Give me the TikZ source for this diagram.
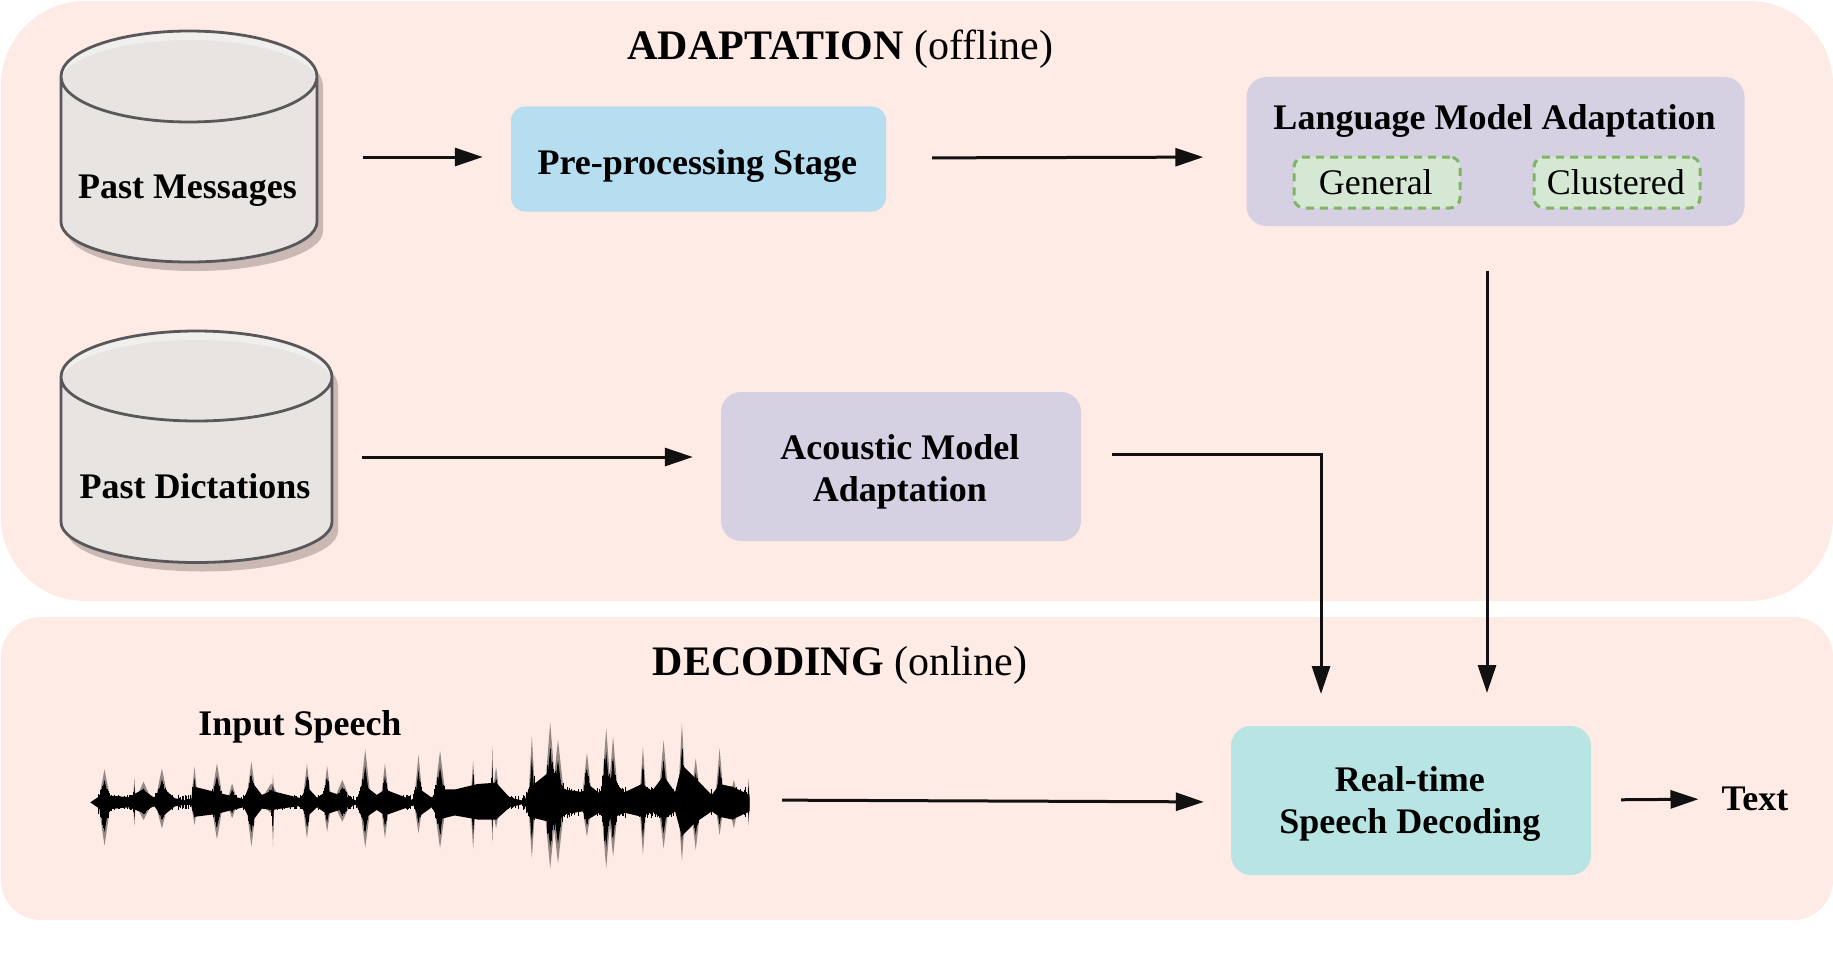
\documentclass[tikz,border=0pt]{standalone}
\usepackage{fontspec}
\setmainfont{Liberation Serif}
\usetikzlibrary{arrows.meta}
\definecolor{panelc}{HTML}{FFEBE5}
\definecolor{cylc}{HTML}{E8E4E2}
\definecolor{cylrim}{HTML}{F1EFEE}
\definecolor{cylshadow}{HTML}{C9B8B4}
\definecolor{cylline}{HTML}{58585A}
\definecolor{preblue}{HTML}{B7DDF0}
\definecolor{lilac}{HTML}{D5D1E3}
\definecolor{teal}{HTML}{B8E4E4}
\definecolor{greenfill}{HTML}{D5E8D4}
\definecolor{greenline}{HTML}{82B366}
\definecolor{linec}{HTML}{111111}
\newcommand\bodybold{\fontsize{36}{42}\selectfont\bfseries}
\newcommand\bodyreg{\fontsize{36}{42}\selectfont}
\newcommand\titlefont{\fontsize{42}{48}\selectfont}
\newcommand\dropt[2]{\raisebox{-#1}[\height][\depth]{\mbox{#2\kern2.3pt}}}
\newcommand\twolines[2]{\begin{tabular}{@{}c@{}}#1\\#2\end{tabular}}
\tikzset{
  panel/.style={fill=panelc,draw=none},
  boxnode/.style={rounded corners=#1,draw=none,inner sep=0pt,align=center,font=\bodybold},
  subbox/.style={rounded corners=10pt,draw=greenline,fill=greenfill,line width=3pt,dash pattern=on 8pt off 6pt,inner sep=0pt,font=\bodyreg},
  label/.style={inner sep=0pt,align=center,font=\bodybold},
  arr/.style={draw=linec,line width=3pt,-{Triangle[length=28pt,width=18pt]}},
}
% left, right, top, ellipse-middle, ellipse-bottom, side-end, bottom
\newcommand\DataCyl[7]{%
  \pgfmathsetmacro\cC{(#1+#2)/2}
  \pgfmathsetmacro\kX{0.5523*(#2-#1)/2}
  \pgfmathsetmacro\kT{0.5523*(#4-#3)}
  \pgfmathsetmacro\kB{0.5523*(#5-#4)}
  \pgfmathsetmacro\kE{0.5523*(#7-#6)}
  \begin{scope}[shift={(6,9)}]
    \fill[cylshadow] (#1,#4) -- (#1,#6)
      .. controls (#1,#6+\kE) and (\cC-\kX,#7) .. (\cC,#7)
      .. controls (\cC+\kX,#7) and (#2,#6+\kE) .. (#2,#6) -- (#2,#4)
      .. controls (#2,#4-\kT) and (\cC+\kX,#3) .. (\cC,#3)
      .. controls (\cC-\kX,#3) and (#1,#4-\kT) .. (#1,#4) -- cycle;
  \end{scope}
  \fill[cylc] (#1,#4) -- (#1,#6)
      .. controls (#1,#6+\kE) and (\cC-\kX,#7) .. (\cC,#7)
      .. controls (\cC+\kX,#7) and (#2,#6+\kE) .. (#2,#6) -- (#2,#4)
      .. controls (#2,#4-\kT) and (\cC+\kX,#3) .. (\cC,#3)
      .. controls (\cC-\kX,#3) and (#1,#4-\kT) .. (#1,#4) -- cycle;
  \fill[cylrim] (#1,#4)
      .. controls (#1,#4-\kT) and (\cC-\kX,#3) .. (\cC,#3)
      .. controls (\cC+\kX,#3) and (#2,#4-\kT) .. (#2,#4)
      .. controls (#2-10,#4-\kT+6) and (\cC+\kX,#3+9) .. (\cC,#3+9)
      .. controls (\cC-\kX,#3+9) and (#1+10,#4-\kT+6) .. (#1,#4) -- cycle;
  \draw[cylline,line width=2.8pt,line join=round] (#1,#4) -- (#1,#6)
      .. controls (#1,#6+\kE) and (\cC-\kX,#7) .. (\cC,#7)
      .. controls (\cC+\kX,#7) and (#2,#6+\kE) .. (#2,#6) -- (#2,#4)
      .. controls (#2,#4-\kT) and (\cC+\kX,#3) .. (\cC,#3)
      .. controls (\cC-\kX,#3) and (#1,#4-\kT) .. (#1,#4)
      .. controls (#1,#4+\kB) and (\cC-\kX,#5) .. (\cC,#5)
      .. controls (\cC+\kX,#5) and (#2,#4+\kB) .. (#2,#4);
}
\begin{document}
\begin{tikzpicture}[x=1pt,y=-1pt]
\useasboundingbox (0,0) rectangle (1833,963);
\fill[white] (0,0) rectangle (1833,963);
% panels
\fill[panel,rounded corners=84pt] (1,1) rectangle (1833,601);
\fill[panel,rounded corners=40pt] (1,617) rectangle (1833,920);
% titles
\node[inner sep=0pt,font=\titlefont] (adapt) at (840.5,49.5) {\textbf{ADAPTATION} (offline)};
\node[inner sep=0pt,font=\titlefont] (decod) at (840,665.5) {\textbf{DECODING} (online)};
% cylinders
\DataCyl{61}{317}{31}{76.5}{122}{222}{262}
\DataCyl{61}{332}{331}{377}{421}{522}{562.5}
\node[label,minimum width=256pt] (pm) at (187.5,191) {Past Messages};
\node[label,minimum width=271pt] (pd) at (195,486) {Past Dictations};
% boxes
\node[boxnode=14pt,fill=preblue,minimum width=375pt,minimum height=105pt] (pre) at (698.5,159) {\dropt{6.5pt}{Pre-processing Stage}};
\node[boxnode=20pt,fill=lilac,minimum width=498pt,minimum height=149pt] (lang) at (1495.5,151.5) {};
\node[label] (langt) at (1494.5,120.5) {Language Model Adaptation};
\node[subbox,minimum width=166pt,minimum height=51pt] (gen) at (1377,182.5) {\mbox{General\kern2.5pt}};
\node[subbox,minimum width=166pt,minimum height=51pt] (clu) at (1617,182.5) {\mbox{Clustered\kern2.5pt}};
\node[boxnode=20pt,fill=lilac,minimum width=360pt,minimum height=149pt] (am) at (901,466.5) {\dropt{5.8pt}{\twolines{Acoustic Model}{Adaptation}}};
\node[boxnode=20pt,fill=teal,minimum width=360pt,minimum height=149pt] (rt) at (1411,800.5) {\dropt{3.5pt}{\twolines{Real-time}{Speech Decoding}}};
\node[label] (inp) at (300,726.5) {Input Speech};
\node[label] (txt) at (1755,798.5) {Text};
% waveform (drawn in magnified coordinates of its own)
\coordinate (wavee) at (750,800);
\begin{scope}[shift={(60,680)},x=0.459pt,y=-0.3333pt]
\clip (60,100) rectangle (1502,600);
\pgfmathsetseed{4711}
\foreach \x/\t/\b/\w in {97/268/497/14,162/292/440/3,182/305/420/20,222/265/445/15,293/260/435/8,342/250/478/14,375/310/415/12,417/245/500/12,464/282/500/3,460/310/400/25,538/252/475/10,582/258/455/10,615/300/425/20,665/208/503/13,708/250/475/10,781/225/460/10,828/212/505/14,900/242/508/6,942/195/490/3,950/260/445/10,1028/168/535/8,1068/128/565/14,1085/180/550/15,1148/218/470/12,1190/145/565/12,1205/170/530/12,1270/200/525/8,1315/180/505/12,1355/128/543/9,1385/235/510/12,1437/205/465/10,1468/300/445/12,1500/295/437/3}{
  \fill[black,opacity=.42] ({\x-\w},367) -- (\x,\t) -- ({\x+\w},367) -- (\x,\b) -- cycle;
  \fill[black] ({\x-0.8*\w},367) -- (\x,{367-(367-\t)*0.68}) -- ({\x+0.8*\w},367) -- (\x,{367+(\b-367)*0.68}) -- cycle;
  \pgfmathtruncatemacro\nn{max(6,2.5*\w)}
  \foreach \j in {1,...,\nn}{
    \pgfmathsetmacro\dx{1.7*\w*(2*rnd-1)}
    \pgfmathsetmacro\ff{(1-abs(\dx)/(1.7*\w))^1.3}
    \pgfmathsetmacro\ra{\ff*(.45+.55*rnd)}
    \pgfmathsetmacro\rb{\ff*(.45+.55*rnd)}
    \draw[black,line width=1pt] ({\x+\dx},{367-(367-\t)*\ra*.72}) -- ({\x+\dx},{367+(\b-367)*\rb*.72});
  }
}
\begin{scope}[yshift=-22.02pt,y=-0.2733pt]
\fill[black] plot coordinates {(66,367) (90,340) (150,348) (180,320) (205,350) (222,310) (250,352) (285,364) (293,310) (340,330) (400,355) (417,290) (440,340) (460,325) (525,352) (538,310) (560,350) (582,325) (645,360) (660,300) (690,340) (708,320) (770,360) (781,315) (810,350) (825,320) (860,320) (910,300) (950,295) (980,350) (1012,362) (1022,315) (1070,250) (1100,320) (1140,330) (1150,300) (1180,340) (1195,270) (1230,330) (1268,300) (1290,325) (1315,270) (1340,330) (1355,230) (1385,280) (1420,340) (1437,300) (1465,310) (1502,340)
 (1502,400) (1465,430) (1437,420) (1420,400) (1385,440) (1355,490) (1340,400) (1315,430) (1290,400) (1268,420) (1230,405) (1195,430) (1180,400) (1150,430) (1140,400) (1100,410) (1070,440) (1022,420) (1012,372) (980,385) (950,430) (910,430) (860,415) (825,430) (810,385) (781,420) (770,378) (708,415) (690,395) (660,430) (645,375) (582,410) (560,385) (538,420) (525,380) (460,395) (440,390) (417,440) (400,385) (340,410) (293,420) (285,372) (250,382) (222,420) (205,380) (180,405) (150,385) (90,395)};
\end{scope}
\foreach \i in {1,...,600}{
  \pgfmathsetmacro\xx{90+1410*rnd}
  \pgfmathsetmacro\hh{(\xx<1012?18:36)*(0.5+0.8*rnd)}
  \draw[black,line width=1pt] (\xx,{367-\hh}) -- (\xx,{367+\hh});
}
\end{scope}
% connectors
\draw[arr,shorten <=47pt,shorten >=28pt] ([yshift=34pt]pm.east) -- ([yshift=2pt]pre.west);
\draw[arr,shorten <=46pt,shorten >=43pt] ([yshift=1pt]pre.east) -- ([yshift=-5.5pt]lang.west);
\draw[arr,shorten <=31pt,shorten >=28pt] ([yshift=29pt]pd.east) -- ([yshift=9.5pt]am.west);
\draw[arr,shorten <=31pt,shorten >=32pt] (am.east |- 0,454) -- (1321,454) -- (1321,726);
\draw[arr,shorten <=45pt,shorten >=33pt] (1487,226) -- (1487,726);
\draw[arr,shorten <=32pt,shorten >=27pt] (wavee) -- ([yshift=-1.5pt]rt.west);
\draw[arr,shorten <=30pt,shorten >=23pt] ([yshift=0.5pt]rt.east) -- ([yshift=-0.5pt]txt.west);
\end{tikzpicture}
\end{document}
